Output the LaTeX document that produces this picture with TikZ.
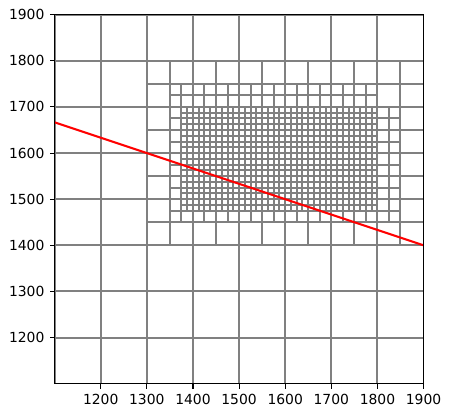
\documentclass[tikz,border=0pt]{standalone}
\usepackage{fontspec}
\setmainfont{DejaVu Sans}
\definecolor{meshgray}{HTML}{808080}
\definecolor{linered}{HTML}{FF0000}
\tikzset{
  meshline/.style={draw=meshgray, line width=2pt},
  redline/.style={draw=linered, line width=2.08pt},
  spine/.style={draw=black, line width=1.11pt},
  tickmark/.style={draw=black, line width=1.11pt},
  ticklabel/.style={inner sep=0pt, font=\fontsize{13.89}{16}\selectfont},
}
% data -> page (pt), snapped to whole pixels
% X = -452.72 + 0.4612 x ; Y = -473.98 + 0.4612 y
% #1 x0, #2 y0, #3 nx, #4 ny, #5 step
\newcommand\meshpart[5]{%
  \pgfmathsetmacro\mya{round(-473.98+0.4612*(#2))}%
  \pgfmathsetmacro\myb{round(-473.98+0.4612*(#2+#4*#5))}%
  \pgfmathsetmacro\mxa{round(-452.72+0.4612*(#1))}%
  \pgfmathsetmacro\mxb{round(-452.72+0.4612*(#1+#3*#5))}%
  \foreach \i in {0,...,#3} {%
    \pgfmathsetmacro\mxx{round(-452.72+0.4612*(#1+#5*\i))}%
    \draw[meshline] (\mxx pt,\mya pt) -- (\mxx pt,\myb pt);
  }%
  \foreach \j in {0,...,#4} {%
    \pgfmathsetmacro\myy{round(-473.98+0.4612*(#2+#5*\j))}%
    \draw[meshline] (\mxa pt,\myy pt) -- (\mxb pt,\myy pt);
  }%
}
\begin{document}
\begin{tikzpicture}
\fill[white] (0,0) rectangle (450pt,417pt);
\path[use as bounding box] (0,0) rectangle (450pt,417pt);
\begin{scope}
  \clip (54.6pt,33.34pt) rectangle (423.56pt,402.3pt);
  \meshpart{1100}{1100}{8}{8}{100}
  \meshpart{1300}{1400}{12}{8}{50}
  \meshpart{1350}{1450}{18}{12}{25}
  \meshpart{1800}{1450}{2}{10}{25}
  \meshpart{1375}{1475}{34}{18}{12.5}
\end{scope}
\begin{scope}[x=0.4612pt, y=0.4612pt, shift={(-452.72pt,-473.98pt)}]
  \coordinate (axLL) at (1100,1100);
  \coordinate (axUR) at (1900,1900);
  \coordinate (redA) at (1100,1666.667);
  \coordinate (redB) at (1900,1400);
  \begin{scope}
    \clip (axLL) rectangle (axUR);
    \draw[redline] (redA) -- (redB);
  \end{scope}
  \draw[spine] (axLL) rectangle (axUR);
  \foreach \v in {1200,1300,...,1900} {
    \coordinate (xt\v) at (\v,1100);
    \draw[tickmark] (xt\v) -- ++(0,-4.86pt);
    \node[ticklabel, anchor=north] (xl\v) at ([yshift=-10.7pt]xt\v) {\v};
    \coordinate (yt\v) at (1100,\v);
    \draw[tickmark] (yt\v) -- ++(-4.86pt,0);
    \node[ticklabel, anchor=east] (yl\v) at ([xshift=-10pt]yt\v) {\v};
  }
\end{scope}
\end{tikzpicture}
\end{document}
